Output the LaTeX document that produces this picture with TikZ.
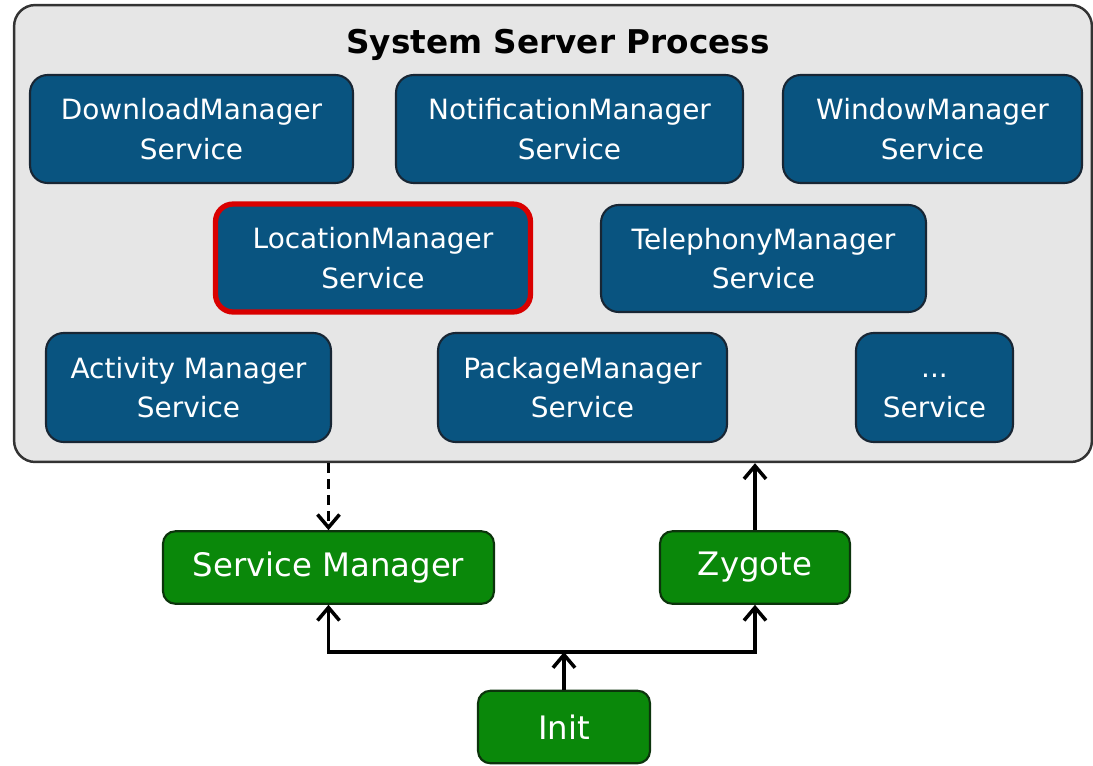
\documentclass[tikz,border=0pt]{standalone}
\usepackage{fontspec}
\setmainfont{DejaVu Sans}
\usetikzlibrary{arrows.meta}

\definecolor{svcblue}{RGB}{9,84,128}
\definecolor{svcedge}{RGB}{24,38,52}
\definecolor{bootgreen}{RGB}{10,136,10}
\definecolor{bootedge}{RGB}{12,52,12}
\definecolor{procgray}{RGB}{230,230,230}

\begin{document}
\begin{tikzpicture}[x=0.02cm, y=-0.02cm,
            svc/.style = {draw=svcedge, line width=1.2pt, fill=svcblue, rounded corners=10pt,
                          text=white, align=center, minimum height=2.16cm,
                          font=\fontsize{15.9}{22.5}\selectfont},
            boot/.style = {draw=bootedge, line width=1.2pt, fill=bootgreen, rounded corners=7pt,
                           text=white, align=center, minimum height=1.45cm,
                           font=\fontsize{18.4}{22}\selectfont},
            link/.style = {line width=2pt, -{Straight Barb[length=2.6mm,width=4.4mm,line width=2pt]}},
            ]
            \useasboundingbox (0,0) rectangle (1093,765);

            % system server process
            \node[draw=black!80, line width=1.4pt, fill=procgray, rounded corners=12pt,
                  minimum width=21.56cm, minimum height=9.14cm] (proc) at (553,233.5) {};
            \node[font=\fontsize{18.6}{22}\selectfont\bfseries] (title) at (558,45) {System Server Process};

            % services
            \node[svc, minimum width=6.46cm] (dlm) at (191.5,129) {DownloadManager\\Service};
            \node[svc, minimum width=6.94cm] (ntm) at (569.5,129) {NotificationManager\\Service};
            \node[svc, minimum width=5.98cm] (wnm) at (932.5,129) {WindowManager\\Service};
            \node[svc, minimum width=6.30cm, draw=red!85!black, line width=3pt] (lcm) at (373,258) {LocationManager\\Service};
            \node[svc, minimum width=6.50cm, minimum height=2.14cm] (tlm) at (763.5,258.5) {TelephonyManager\\Service};
            \node[svc, minimum width=5.70cm, minimum height=2.18cm] (acm) at (188.5,387.5) {Activity Manager\\Service};
            \node[svc, minimum width=5.78cm, minimum height=2.18cm] (pkm) at (582.5,387.5) {PackageManager\\Service};
            \node[svc, minimum width=3.14cm, minimum height=2.18cm] (etc) at (934.5,387.5) {\vphantom{S}...\\Service};

            % boot chain
            \node[boot, minimum width=6.62cm] (svm) at (328.5,567.5) {Service Manager};
            \node[boot, minimum width=3.80cm] (zyg) at (755,567.5) {Zygote};
            \node[boot, minimum width=3.44cm] (init) at (564,727) {Init};

            \coordinate (fork) at (564,652);
            \draw[link] (init.north) -- (fork);
            \draw[link] (fork) -| (svm.south);
            \draw[link] (fork) -| (zyg.south);
            \draw[link] (zyg.north) -- (zyg.north |- proc.south);
            \draw[link, dash pattern=on 2mm off 1.2mm] (svm.north |- proc.south) -- (svm.north);
        \end{tikzpicture}
\end{document}
